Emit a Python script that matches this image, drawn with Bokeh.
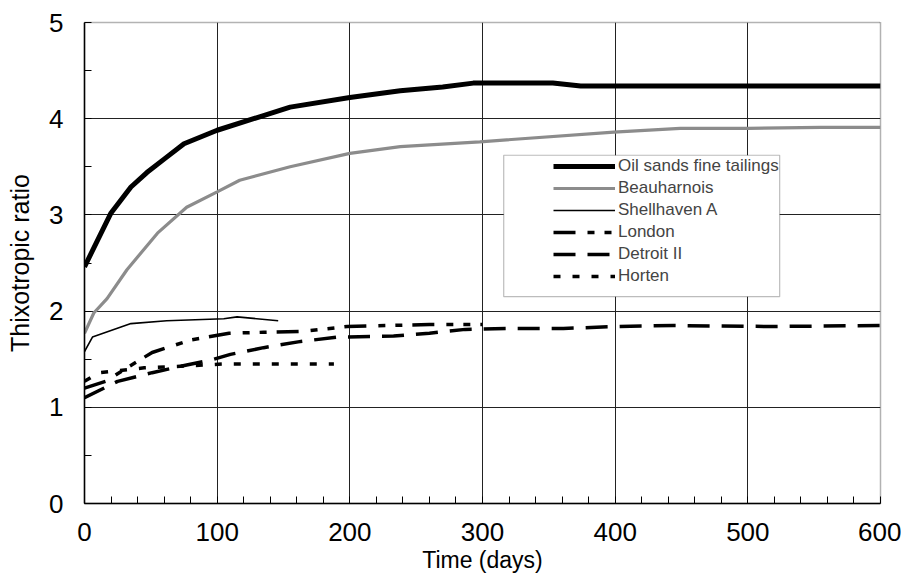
from bokeh.plotting import figure
from bokeh.models import Legend, LegendItem, BoxAnnotation, Range1d, SingleIntervalTicker
from bokeh.embed import file_html
from bokeh.resources import INLINE

# ---- data ----
oil_x = [0, 20, 35, 47, 60, 75, 100, 132, 155, 200, 238, 270, 293, 353, 374, 450, 600]
oil_y = [2.46, 3.02, 3.29, 3.44, 3.58, 3.74, 3.88, 4.02, 4.12, 4.22, 4.29, 4.33, 4.37, 4.37, 4.34, 4.34, 4.34]

beau_x = [0, 7, 17, 32, 55, 77, 100, 117, 155, 200, 238, 298, 399, 449, 500, 555, 600]
beau_y = [1.77, 1.98, 2.13, 2.43, 2.81, 3.08, 3.24, 3.36, 3.50, 3.64, 3.71, 3.76, 3.86, 3.90, 3.90, 3.91, 3.91]

shell_x = [0, 6, 35, 62, 105, 115, 146]
shell_y = [1.58, 1.73, 1.87, 1.90, 1.92, 1.94, 1.90]

london_x = [0, 16, 32, 51, 80, 109, 135, 165, 198, 228, 260, 300]
london_y = [1.20, 1.27, 1.41, 1.57, 1.70, 1.77, 1.78, 1.79, 1.84, 1.85, 1.86, 1.86]

detroit_x = [0, 25, 51, 77, 95, 110, 135, 161, 190, 233, 260, 287, 322, 361, 402, 444, 517, 600]
detroit_y = [1.10, 1.27, 1.36, 1.44, 1.49, 1.55, 1.62, 1.68, 1.73, 1.74, 1.77, 1.81, 1.82, 1.82, 1.84, 1.85, 1.84, 1.85]

horten_x = [0, 11, 45, 77, 105, 150, 188]
horten_y = [1.27, 1.36, 1.41, 1.43, 1.45, 1.45, 1.45]

series_names = ["Oil sands fine tailings", "Beauharnois", "Shellhaven A", "London", "Detroit II", "Horten"]

x_label = "Time (days)"
y_label = "Thixotropic ratio"

# legend box (data coords of the frame drawn around the legend)
legend_box = dict(left=316, right=524, bottom=2.15, top=3.62)

FONT = "Liberation Sans, Arial, Helvetica, sans-serif"

p = figure(width=901, height=575, output_backend="svg", toolbar_location=None,
           x_range=Range1d(0, 600), y_range=Range1d(0, 5),
           min_border_left=84, min_border_right=21, min_border_top=22, min_border_bottom=71)
p.background_fill_color = "white"
p.border_fill_color = "white"
p.outline_line_color = "#666666"
p.outline_line_width = 1.5
p.outline_line_dash = "1 1"

p.xaxis.ticker = SingleIntervalTicker(interval=100, num_minor_ticks=5)
p.yaxis.ticker = SingleIntervalTicker(interval=1, num_minor_ticks=2)

for ax in (p.xaxis[0], p.yaxis[0]):
    ax.axis_line_color = "black"
    ax.axis_line_width = 1.5
    ax.major_tick_out = 0
    ax.major_tick_in = 0
    ax.minor_tick_out = 0
    ax.minor_tick_in = 7
    ax.minor_tick_line_color = "black"
    ax.major_label_text_font = FONT
    ax.major_label_text_font_size = "26px"
    ax.major_label_text_color = "black"
    ax.axis_label_text_font = FONT
    ax.axis_label_text_font_style = "normal"
    ax.axis_label_text_color = "black"

p.xaxis.axis_label = x_label
p.yaxis.axis_label = y_label
p.xaxis.axis_label_text_font_size = "23px"
p.yaxis.axis_label_text_font_size = "25px"
p.xaxis.major_label_standoff = 19
p.xaxis.axis_label_standoff = 3
p.yaxis.major_label_standoff = 21
p.yaxis.axis_label_standoff = 12

p.xgrid.grid_line_color = "#222222"
p.ygrid.grid_line_color = "#222222"
p.xgrid.grid_line_width = 1
p.ygrid.grid_line_width = 1

r_oil = p.line(oil_x, oil_y, line_color="black", line_width=5)
r_beau = p.line(beau_x, beau_y, line_color="#8c8c8c", line_width=3.2)
r_shell = p.line(shell_x, shell_y, line_color="black", line_width=1.6)
r_lon = p.line(london_x, london_y, line_color="black", line_width=3.5, line_dash="22 12 7 10 7 10")
r_det = p.line(detroit_x, detroit_y, line_color="black", line_width=3.5, line_dash="22 12")
r_hor = p.line(horten_x, horten_y, line_color="black", line_width=3.5, line_dash="7 12")

box = BoxAnnotation(left=legend_box["left"], right=legend_box["right"],
                    bottom=legend_box["bottom"], top=legend_box["top"],
                    fill_color="white", fill_alpha=1.0, line_color="#222222", line_width=1.2,
                    level="annotation")
p.add_layout(box)

items = [LegendItem(label=n, renderers=[r]) for n, r in
         zip(series_names, [r_oil, r_beau, r_shell, r_lon, r_det, r_hor])]
legend = Legend(items=items, location=(469, 217), padding=0, margin=0, spacing=2,
                glyph_width=62, glyph_height=16, label_height=16, label_standoff=3,
                label_text_font=FONT, label_text_font_size="17px",
                border_line_alpha=0, background_fill_alpha=0)
p.add_layout(legend, "center")

open("out.html", "w").write(file_html(p, INLINE))
